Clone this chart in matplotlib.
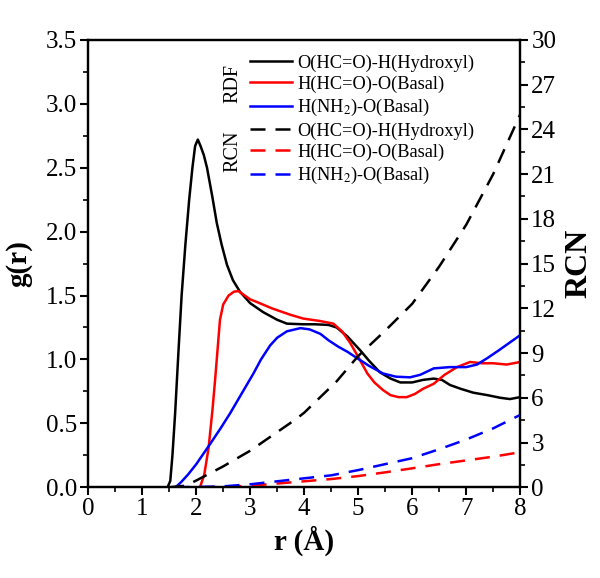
import matplotlib
matplotlib.use("Agg")
import matplotlib.pyplot as plt
from matplotlib.lines import Line2D
from matplotlib.ticker import MultipleLocator

plt.rcParams['font.family'] = ['Liberation Serif', 'DejaVu Serif']
plt.rcParams['mathtext.fontset'] = 'stix'

# RDF curves, g(r)
r_oh = [1.47, 1.52, 1.56, 1.61, 1.67, 1.73, 1.8, 1.87, 1.93, 1.98, 2.03, 2.08, 2.14, 2.2, 2.3,
        2.38, 2.47, 2.57, 2.68, 2.81, 3.0, 3.24, 3.5, 3.68, 3.98, 4.2, 4.45, 4.6, 4.8, 5.04, 5.2,
        5.4, 5.6, 5.78, 6.0, 6.2, 6.4, 6.55, 6.7, 6.9, 7.13, 7.4, 7.63, 7.81, 8.0]
g_oh = [0.0, 0.05, 0.25, 0.58, 1.05, 1.5, 1.9, 2.25, 2.5, 2.67, 2.72, 2.67, 2.6, 2.5, 2.27,
        2.07, 1.9, 1.74, 1.62, 1.53, 1.44, 1.37, 1.31, 1.28, 1.275, 1.275, 1.27, 1.25, 1.18, 1.07, 0.99,
        0.9, 0.85, 0.82, 0.82, 0.84, 0.85, 0.84, 0.80, 0.77, 0.74, 0.72, 0.70, 0.69, 0.705]

r_ho = [2.07, 2.15, 2.23, 2.3, 2.35, 2.4, 2.44, 2.5, 2.6, 2.7, 2.78, 2.9, 3.0, 3.12, 3.4,
        3.74, 3.98, 4.3, 4.54, 4.7, 4.85, 5.0, 5.17, 5.3, 5.46, 5.6, 5.75, 5.9, 6.05, 6.2, 6.4,
        6.6, 6.83, 7.07, 7.3, 7.5, 7.75, 8.0]
g_ho = [0.0, 0.1, 0.31, 0.6, 0.84, 1.1, 1.31, 1.43, 1.5, 1.53, 1.535, 1.5, 1.47, 1.45, 1.4,
        1.35, 1.32, 1.3, 1.28, 1.22, 1.13, 1.02, 0.89, 0.82, 0.76, 0.72, 0.705, 0.705, 0.73, 0.77, 0.81,
        0.88, 0.94, 0.98, 0.97, 0.97, 0.96, 0.98]

r_nh = [1.62, 1.72, 1.85, 2.0, 2.26, 2.45, 2.63, 2.81, 3.06, 3.2, 3.37, 3.5, 3.68, 3.93, 4.1,
        4.3, 4.45, 4.63, 4.8, 4.98, 5.2, 5.46, 5.7, 5.96, 6.15, 6.4, 6.7, 7.0, 7.2, 7.39, 7.6,
        7.8, 8.0]
g_nh = [0.0, 0.04, 0.1, 0.18, 0.34, 0.46, 0.58, 0.71, 0.89, 1.0, 1.11, 1.17, 1.22, 1.245, 1.235,
        1.2, 1.15, 1.1, 1.06, 1.01, 0.95, 0.89, 0.865, 0.86, 0.88, 0.93, 0.94, 0.94, 0.96, 1.01, 1.07,
        1.13, 1.19]

# running coordination numbers
r_rcn_oh = [1.5, 1.8, 2.0, 2.5, 3.0, 3.5, 3.86, 4.0, 4.6, 5.0, 5.5, 6.0, 6.5, 7.0, 7.5, 8.0]
n_rcn_oh = [0.0, 0.1, 0.45, 1.4, 2.45, 3.7, 4.6, 5.0, 7.1, 8.8, 10.5, 12.3, 14.8, 17.6, 21.0, 25.0]

r_rcn_ho = [2.1, 2.5, 3.0, 3.5, 4.0, 4.5, 5.0, 5.5, 6.0, 6.5, 7.0, 7.5, 8.0]
n_rcn_ho = [0.0, 0.02, 0.1, 0.25, 0.4, 0.55, 0.75, 1.0, 1.27, 1.55, 1.8, 2.05, 2.35]

r_rcn_nh = [1.6, 2.0, 2.5, 3.0, 3.5, 4.0, 4.5, 5.0, 5.5, 6.0, 6.5, 7.0, 7.5, 8.0]
n_rcn_nh = [0.0, 0.02, 0.06, 0.2, 0.4, 0.6, 0.8, 1.15, 1.55, 1.95, 2.55, 3.2, 3.95, 4.85]

labels = ['O(HC=O)-H(Hydroxyl)', 'H(HC=O)-O(Basal)', 'H(NH$_2$)-O(Basal)']
colors = ['black', 'red', 'blue']

fig = plt.figure(figsize=(6.0, 5.78), dpi=100)
ax = fig.add_axes([0.147, 0.157, 0.72, 0.774])
ax2 = ax.twinx()

lw = 1.8
dash = (6, 4)
for rr, gg, c in zip([r_oh, r_ho, r_nh], [g_oh, g_ho, g_nh], colors):
    ax.plot(rr, gg, color=c, lw=lw)
for rr, nn, c in zip([r_rcn_oh, r_rcn_ho, r_rcn_nh], [n_rcn_oh, n_rcn_ho, n_rcn_nh], colors):
    ax2.plot(rr, nn, color=c, lw=lw, dashes=dash)

ax.set_xlim(0, 8)
ax.set_ylim(0, 3.5)
ax2.set_ylim(0, 30)
ax.xaxis.set_major_locator(MultipleLocator(1))
ax.xaxis.set_minor_locator(MultipleLocator(0.5))
ax.yaxis.set_major_locator(MultipleLocator(0.5))
ax.yaxis.set_minor_locator(MultipleLocator(0.25))
ax2.yaxis.set_major_locator(MultipleLocator(3))
ax2.yaxis.set_minor_locator(MultipleLocator(1.5))

for a in (ax, ax2):
    a.tick_params(which='major', direction='out', length=6, width=1.5, labelsize=18, pad=2)
    a.tick_params(which='minor', direction='out', length=3.5, width=1.2)
    for s in a.spines.values():
        s.set_linewidth(1.6)
ax.tick_params(axis='y', which='both', right=False)

ax.set_xlabel('r (Å)', fontsize=21, fontweight='bold', labelpad=4)
ax.set_ylabel('g(r)', fontsize=21, fontweight='bold', labelpad=10)
ax2.set_ylabel('RCN', fontsize=23, fontweight='bold', labelpad=6)

# legends
rdf_handles = [Line2D([], [], color=c, lw=lw) for c in colors]
rcn_handles = [Line2D([], [], color=c, lw=lw, dashes=dash) for c in colors]
leg_kw = dict(loc='upper left', frameon=False, fontsize=13.2, handlelength=2.3,
              handletextpad=0.25, labelspacing=0.22, borderpad=0, borderaxespad=0)
leg1 = ax.legend(rdf_handles, labels, bbox_to_anchor=(0.375, 0.968), **leg_kw)
ax.add_artist(leg1)
ax.legend(rcn_handles, labels, bbox_to_anchor=(0.375, 0.816), **leg_kw)
ax.text(0.335, 0.902, 'RDF', transform=ax.transAxes, rotation=90, fontsize=14.5,
        ha='center', va='center')
ax.text(0.335, 0.75, 'RCN', transform=ax.transAxes, rotation=90, fontsize=14.5,
        ha='center', va='center')

fig.savefig('out.png', dpi=100)
